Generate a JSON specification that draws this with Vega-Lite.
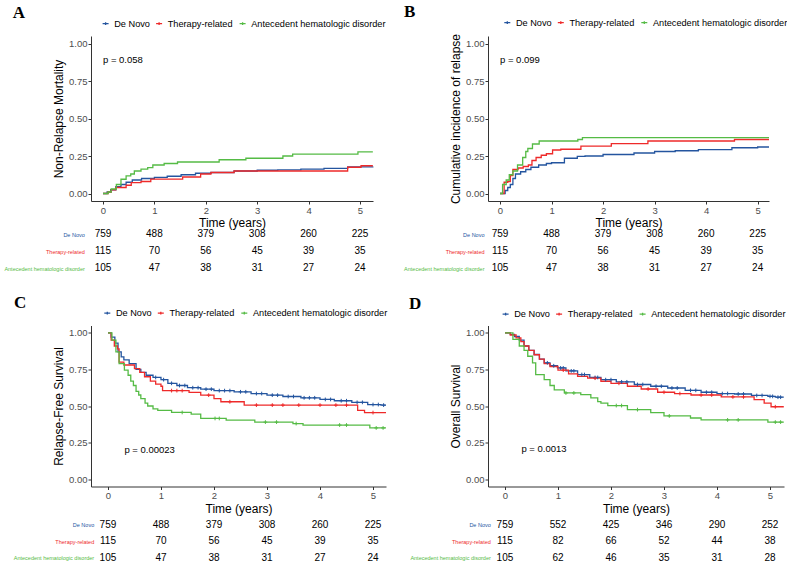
{
  "$schema": "https://vega.github.io/schema/vega-lite/v6.json",
  "padding": {"left": 3, "top": 3, "right": 0, "bottom": 0},
  "bounds": "flush",
  "align": "each",
  "columns": 2,
  "spacing": {"row": 28.25, "column": 102},
  "resolve": {"scale": {"color": "independent"}, "legend": {"color": "independent"}},
  "datasets": {
    "nrm": [
      {"g":"De Novo","t":0,"s":0},{"g":"De Novo","t":0.08,"s":0.01},{"g":"De Novo","t":0.15,"s":0.025},{"g":"De Novo","t":0.25,"s":0.045},{"g":"De Novo","t":0.35,"s":0.06},{"g":"De Novo","t":0.45,"s":0.075},{"g":"De Novo","t":0.57,"s":0.09},{"g":"De Novo","t":0.75,"s":0.1},{"g":"De Novo","t":1.0,"s":0.107},{"g":"De Novo","t":1.25,"s":0.115},{"g":"De Novo","t":1.52,"s":0.125},{"g":"De Novo","t":1.8,"s":0.135},{"g":"De Novo","t":2.1,"s":0.14},{"g":"De Novo","t":2.55,"s":0.15},{"g":"De Novo","t":3.0,"s":0.155},{"g":"De Novo","t":3.4,"s":0.158},{"g":"De Novo","t":3.85,"s":0.162},{"g":"De Novo","t":4.3,"s":0.168},{"g":"De Novo","t":4.76,"s":0.178},{"g":"De Novo","t":5.25,"s":0.18},
      {"g":"Therapy-related","t":0,"s":0},{"g":"Therapy-related","t":0.1,"s":0.01},{"g":"Therapy-related","t":0.16,"s":0.025},{"g":"Therapy-related","t":0.25,"s":0.04},{"g":"Therapy-related","t":0.45,"s":0.055},{"g":"Therapy-related","t":0.55,"s":0.073},{"g":"Therapy-related","t":0.74,"s":0.08},{"g":"Therapy-related","t":0.93,"s":0.096},{"g":"Therapy-related","t":1.55,"s":0.11},{"g":"Therapy-related","t":1.9,"s":0.13},{"g":"Therapy-related","t":2.1,"s":0.14},{"g":"Therapy-related","t":2.55,"s":0.15},{"g":"Therapy-related","t":4.76,"s":0.175},{"g":"Therapy-related","t":5.02,"s":0.185},{"g":"Therapy-related","t":5.25,"s":0.185},
      {"g":"Antecedent hematologic disorder","t":0,"s":0},{"g":"Antecedent hematologic disorder","t":0.1,"s":0.01},{"g":"Antecedent hematologic disorder","t":0.16,"s":0.03},{"g":"Antecedent hematologic disorder","t":0.26,"s":0.06},{"g":"Antecedent hematologic disorder","t":0.35,"s":0.095},{"g":"Antecedent hematologic disorder","t":0.45,"s":0.118},{"g":"Antecedent hematologic disorder","t":0.54,"s":0.13},{"g":"Antecedent hematologic disorder","t":0.61,"s":0.15},{"g":"Antecedent hematologic disorder","t":0.74,"s":0.162},{"g":"Antecedent hematologic disorder","t":0.87,"s":0.173},{"g":"Antecedent hematologic disorder","t":0.97,"s":0.19},{"g":"Antecedent hematologic disorder","t":1.19,"s":0.2},{"g":"Antecedent hematologic disorder","t":1.45,"s":0.21},{"g":"Antecedent hematologic disorder","t":2.26,"s":0.225},{"g":"Antecedent hematologic disorder","t":2.78,"s":0.235},{"g":"Antecedent hematologic disorder","t":3.5,"s":0.25},{"g":"Antecedent hematologic disorder","t":3.69,"s":0.262},{"g":"Antecedent hematologic disorder","t":4.96,"s":0.278},{"g":"Antecedent hematologic disorder","t":5.25,"s":0.278}
    ],
    "cir": [
      {"g":"De Novo","t":0,"s":0},{"g":"De Novo","t":0.1,"s":0.02},{"g":"De Novo","t":0.15,"s":0.04},{"g":"De Novo","t":0.2,"s":0.06},{"g":"De Novo","t":0.25,"s":0.1},{"g":"De Novo","t":0.3,"s":0.13},{"g":"De Novo","t":0.4,"s":0.145},{"g":"De Novo","t":0.5,"s":0.16},{"g":"De Novo","t":0.6,"s":0.175},{"g":"De Novo","t":0.75,"s":0.19},{"g":"De Novo","t":0.9,"s":0.2},{"g":"De Novo","t":1.0,"s":0.205},{"g":"De Novo","t":1.25,"s":0.235},{"g":"De Novo","t":1.5,"s":0.248},{"g":"De Novo","t":1.65,"s":0.25},{"g":"De Novo","t":2.0,"s":0.26},{"g":"De Novo","t":2.6,"s":0.27},{"g":"De Novo","t":3.0,"s":0.28},{"g":"De Novo","t":3.4,"s":0.285},{"g":"De Novo","t":3.85,"s":0.293},{"g":"De Novo","t":4.5,"s":0.305},{"g":"De Novo","t":5.0,"s":0.31},{"g":"De Novo","t":5.22,"s":0.31},
      {"g":"Therapy-related","t":0,"s":0},{"g":"Therapy-related","t":0.08,"s":0.075},{"g":"Therapy-related","t":0.15,"s":0.08},{"g":"Therapy-related","t":0.2,"s":0.12},{"g":"Therapy-related","t":0.25,"s":0.16},{"g":"Therapy-related","t":0.35,"s":0.17},{"g":"Therapy-related","t":0.45,"s":0.18},{"g":"Therapy-related","t":0.55,"s":0.19},{"g":"Therapy-related","t":0.62,"s":0.22},{"g":"Therapy-related","t":0.7,"s":0.24},{"g":"Therapy-related","t":0.8,"s":0.255},{"g":"Therapy-related","t":0.9,"s":0.265},{"g":"Therapy-related","t":1.02,"s":0.29},{"g":"Therapy-related","t":1.18,"s":0.295},{"g":"Therapy-related","t":1.57,"s":0.316},{"g":"Therapy-related","t":2.16,"s":0.333},{"g":"Therapy-related","t":2.87,"s":0.35},{"g":"Therapy-related","t":4.55,"s":0.36},{"g":"Therapy-related","t":5.22,"s":0.36},
      {"g":"Antecedent hematologic disorder","t":0,"s":0},{"g":"Antecedent hematologic disorder","t":0.05,"s":0.06},{"g":"Antecedent hematologic disorder","t":0.12,"s":0.09},{"g":"Antecedent hematologic disorder","t":0.18,"s":0.125},{"g":"Antecedent hematologic disorder","t":0.25,"s":0.15},{"g":"Antecedent hematologic disorder","t":0.34,"s":0.19},{"g":"Antecedent hematologic disorder","t":0.44,"s":0.24},{"g":"Antecedent hematologic disorder","t":0.5,"s":0.28},{"g":"Antecedent hematologic disorder","t":0.54,"s":0.3},{"g":"Antecedent hematologic disorder","t":0.63,"s":0.33},{"g":"Antecedent hematologic disorder","t":0.76,"s":0.35},{"g":"Antecedent hematologic disorder","t":1.51,"s":0.36},{"g":"Antecedent hematologic disorder","t":1.6,"s":0.373},{"g":"Antecedent hematologic disorder","t":5.22,"s":0.373}
    ],
    "rfs": [
      {"g":"De Novo","t":0,"s":1},{"g":"De Novo","t":0.06,"s":0.97},{"g":"De Novo","t":0.13,"s":0.93},{"g":"De Novo","t":0.19,"s":0.87},{"g":"De Novo","t":0.25,"s":0.835},{"g":"De Novo","t":0.3,"s":0.815},{"g":"De Novo","t":0.4,"s":0.79},{"g":"De Novo","t":0.53,"s":0.75},{"g":"De Novo","t":0.62,"s":0.73},{"g":"De Novo","t":0.72,"s":0.71},{"g":"De Novo","t":0.85,"s":0.695},{"g":"De Novo","t":0.9,"s":0.695,"c":1},{"g":"De Novo","t":1.0,"s":0.68},{"g":"De Novo","t":1.05,"s":0.68,"c":1},{"g":"De Novo","t":1.13,"s":0.655},{"g":"De Novo","t":1.2,"s":0.655,"c":1},{"g":"De Novo","t":1.3,"s":0.64},{"g":"De Novo","t":1.35,"s":0.64,"c":1},{"g":"De Novo","t":1.45,"s":0.64,"c":1},{"g":"De Novo","t":1.5,"s":0.625},{"g":"De Novo","t":1.6,"s":0.625,"c":1},{"g":"De Novo","t":1.7,"s":0.625,"c":1},{"g":"De Novo","t":1.75,"s":0.615},{"g":"De Novo","t":1.85,"s":0.615,"c":1},{"g":"De Novo","t":1.95,"s":0.615,"c":1},{"g":"De Novo","t":2.0,"s":0.605},{"g":"De Novo","t":2.1,"s":0.605,"c":1},{"g":"De Novo","t":2.2,"s":0.605,"c":1},{"g":"De Novo","t":2.3,"s":0.605,"c":1},{"g":"De Novo","t":2.38,"s":0.597},{"g":"De Novo","t":2.5,"s":0.597,"c":1},{"g":"De Novo","t":2.6,"s":0.597,"c":1},{"g":"De Novo","t":2.7,"s":0.585},{"g":"De Novo","t":2.8,"s":0.585,"c":1},{"g":"De Novo","t":2.9,"s":0.585,"c":1},{"g":"De Novo","t":3.0,"s":0.574},{"g":"De Novo","t":3.1,"s":0.574,"c":1},{"g":"De Novo","t":3.2,"s":0.574,"c":1},{"g":"De Novo","t":3.3,"s":0.565},{"g":"De Novo","t":3.4,"s":0.565,"c":1},{"g":"De Novo","t":3.5,"s":0.565,"c":1},{"g":"De Novo","t":3.64,"s":0.556},{"g":"De Novo","t":3.7,"s":0.556,"c":1},{"g":"De Novo","t":3.8,"s":0.556,"c":1},{"g":"De Novo","t":3.9,"s":0.556,"c":1},{"g":"De Novo","t":4.0,"s":0.545},{"g":"De Novo","t":4.1,"s":0.545,"c":1},{"g":"De Novo","t":4.2,"s":0.545,"c":1},{"g":"De Novo","t":4.27,"s":0.536},{"g":"De Novo","t":4.4,"s":0.536,"c":1},{"g":"De Novo","t":4.5,"s":0.536,"c":1},{"g":"De Novo","t":4.6,"s":0.525},{"g":"De Novo","t":4.7,"s":0.525,"c":1},{"g":"De Novo","t":4.8,"s":0.525,"c":1},{"g":"De Novo","t":4.9,"s":0.51},{"g":"De Novo","t":5.0,"s":0.51,"c":1},{"g":"De Novo","t":5.1,"s":0.51,"c":1},{"g":"De Novo","t":5.15,"s":0.506},{"g":"De Novo","t":5.2,"s":0.506,"c":1},{"g":"De Novo","t":5.245,"s":0.506},
      {"g":"Therapy-related","t":0,"s":1},{"g":"Therapy-related","t":0.06,"s":0.95},{"g":"Therapy-related","t":0.12,"s":0.91},{"g":"Therapy-related","t":0.18,"s":0.89},{"g":"Therapy-related","t":0.21,"s":0.8},{"g":"Therapy-related","t":0.3,"s":0.78},{"g":"Therapy-related","t":0.5,"s":0.756},{"g":"Therapy-related","t":0.6,"s":0.73},{"g":"Therapy-related","t":0.69,"s":0.7},{"g":"Therapy-related","t":0.8,"s":0.67},{"g":"Therapy-related","t":0.9,"s":0.65},{"g":"Therapy-related","t":1.0,"s":0.635},{"g":"Therapy-related","t":1.03,"s":0.605},{"g":"Therapy-related","t":1.2,"s":0.605,"c":1},{"g":"Therapy-related","t":1.3,"s":0.605,"c":1},{"g":"Therapy-related","t":1.4,"s":0.605,"c":1},{"g":"Therapy-related","t":1.53,"s":0.593},{"g":"Therapy-related","t":1.75,"s":0.574},{"g":"Therapy-related","t":1.9,"s":0.574,"c":1},{"g":"Therapy-related","t":2.0,"s":0.55},{"g":"Therapy-related","t":2.13,"s":0.529},{"g":"Therapy-related","t":2.3,"s":0.529,"c":1},{"g":"Therapy-related","t":2.57,"s":0.506},{"g":"Therapy-related","t":2.8,"s":0.506,"c":1},{"g":"Therapy-related","t":3.1,"s":0.506,"c":1},{"g":"Therapy-related","t":3.3,"s":0.506,"c":1},{"g":"Therapy-related","t":3.6,"s":0.506,"c":1},{"g":"Therapy-related","t":4.0,"s":0.506,"c":1},{"g":"Therapy-related","t":4.3,"s":0.506,"c":1},{"g":"Therapy-related","t":4.5,"s":0.506,"c":1},{"g":"Therapy-related","t":4.71,"s":0.47},{"g":"Therapy-related","t":4.84,"s":0.455},{"g":"Therapy-related","t":5.0,"s":0.455,"c":1},{"g":"Therapy-related","t":5.245,"s":0.455},
      {"g":"Antecedent hematologic disorder","t":0,"s":1},{"g":"Antecedent hematologic disorder","t":0.075,"s":0.95},{"g":"Antecedent hematologic disorder","t":0.15,"s":0.87},{"g":"Antecedent hematologic disorder","t":0.21,"s":0.79},{"g":"Antecedent hematologic disorder","t":0.31,"s":0.745},{"g":"Antecedent hematologic disorder","t":0.38,"s":0.71},{"g":"Antecedent hematologic disorder","t":0.43,"s":0.67},{"g":"Antecedent hematologic disorder","t":0.48,"s":0.64},{"g":"Antecedent hematologic disorder","t":0.53,"s":0.6},{"g":"Antecedent hematologic disorder","t":0.58,"s":0.575},{"g":"Antecedent hematologic disorder","t":0.62,"s":0.55},{"g":"Antecedent hematologic disorder","t":0.7,"s":0.52},{"g":"Antecedent hematologic disorder","t":0.75,"s":0.5},{"g":"Antecedent hematologic disorder","t":0.85,"s":0.48},{"g":"Antecedent hematologic disorder","t":0.94,"s":0.47},{"g":"Antecedent hematologic disorder","t":1.2,"s":0.456},{"g":"Antecedent hematologic disorder","t":1.4,"s":0.456,"c":1},{"g":"Antecedent hematologic disorder","t":1.57,"s":0.444},{"g":"Antecedent hematologic disorder","t":1.75,"s":0.415},{"g":"Antecedent hematologic disorder","t":2.02,"s":0.415,"c":1},{"g":"Antecedent hematologic disorder","t":2.1,"s":0.415,"c":1},{"g":"Antecedent hematologic disorder","t":2.23,"s":0.404},{"g":"Antecedent hematologic disorder","t":2.77,"s":0.39},{"g":"Antecedent hematologic disorder","t":2.97,"s":0.39,"c":1},{"g":"Antecedent hematologic disorder","t":3.18,"s":0.39,"c":1},{"g":"Antecedent hematologic disorder","t":3.49,"s":0.38},{"g":"Antecedent hematologic disorder","t":3.55,"s":0.38,"c":1},{"g":"Antecedent hematologic disorder","t":3.68,"s":0.37},{"g":"Antecedent hematologic disorder","t":4.37,"s":0.37,"c":1},{"g":"Antecedent hematologic disorder","t":4.5,"s":0.37,"c":1},{"g":"Antecedent hematologic disorder","t":4.94,"s":0.35},{"g":"Antecedent hematologic disorder","t":5.06,"s":0.35,"c":1},{"g":"Antecedent hematologic disorder","t":5.19,"s":0.35,"c":1},{"g":"Antecedent hematologic disorder","t":5.245,"s":0.35}
    ],
    "os": [
      {"g":"De Novo","t":0,"s":1},{"g":"De Novo","t":0.1,"s":0.99},{"g":"De Novo","t":0.18,"s":0.975},{"g":"De Novo","t":0.27,"s":0.95},{"g":"De Novo","t":0.36,"s":0.91},{"g":"De Novo","t":0.45,"s":0.88},{"g":"De Novo","t":0.55,"s":0.852},{"g":"De Novo","t":0.65,"s":0.82},{"g":"De Novo","t":0.74,"s":0.795},{"g":"De Novo","t":0.8,"s":0.795,"c":1},{"g":"De Novo","t":0.85,"s":0.775},{"g":"De Novo","t":0.92,"s":0.775,"c":1},{"g":"De Novo","t":0.99,"s":0.76},{"g":"De Novo","t":1.05,"s":0.76,"c":1},{"g":"De Novo","t":1.1,"s":0.76,"c":1},{"g":"De Novo","t":1.15,"s":0.74},{"g":"De Novo","t":1.25,"s":0.74,"c":1},{"g":"De Novo","t":1.3,"s":0.74,"c":1},{"g":"De Novo","t":1.37,"s":0.715},{"g":"De Novo","t":1.45,"s":0.715,"c":1},{"g":"De Novo","t":1.5,"s":0.715,"c":1},{"g":"De Novo","t":1.6,"s":0.695},{"g":"De Novo","t":1.7,"s":0.695,"c":1},{"g":"De Novo","t":1.75,"s":0.695,"c":1},{"g":"De Novo","t":1.81,"s":0.68},{"g":"De Novo","t":1.9,"s":0.68,"c":1},{"g":"De Novo","t":2.0,"s":0.68,"c":1},{"g":"De Novo","t":2.1,"s":0.665},{"g":"De Novo","t":2.2,"s":0.665,"c":1},{"g":"De Novo","t":2.3,"s":0.665,"c":1},{"g":"De Novo","t":2.44,"s":0.647},{"g":"De Novo","t":2.5,"s":0.647,"c":1},{"g":"De Novo","t":2.6,"s":0.647,"c":1},{"g":"De Novo","t":2.75,"s":0.635},{"g":"De Novo","t":2.85,"s":0.635,"c":1},{"g":"De Novo","t":2.95,"s":0.635,"c":1},{"g":"De Novo","t":3.07,"s":0.623},{"g":"De Novo","t":3.15,"s":0.623,"c":1},{"g":"De Novo","t":3.25,"s":0.623,"c":1},{"g":"De Novo","t":3.4,"s":0.607},{"g":"De Novo","t":3.5,"s":0.607,"c":1},{"g":"De Novo","t":3.6,"s":0.607,"c":1},{"g":"De Novo","t":3.7,"s":0.594},{"g":"De Novo","t":3.8,"s":0.594,"c":1},{"g":"De Novo","t":3.9,"s":0.594,"c":1},{"g":"De Novo","t":4.0,"s":0.585},{"g":"De Novo","t":4.1,"s":0.585,"c":1},{"g":"De Novo","t":4.2,"s":0.585,"c":1},{"g":"De Novo","t":4.33,"s":0.582},{"g":"De Novo","t":4.4,"s":0.582,"c":1},{"g":"De Novo","t":4.5,"s":0.582,"c":1},{"g":"De Novo","t":4.65,"s":0.572},{"g":"De Novo","t":4.75,"s":0.572,"c":1},{"g":"De Novo","t":4.85,"s":0.572,"c":1},{"g":"De Novo","t":4.96,"s":0.566},{"g":"De Novo","t":5.0,"s":0.566,"c":1},{"g":"De Novo","t":5.05,"s":0.566,"c":1},{"g":"De Novo","t":5.1,"s":0.56},{"g":"De Novo","t":5.15,"s":0.56,"c":1},{"g":"De Novo","t":5.2,"s":0.56,"c":1},{"g":"De Novo","t":5.26,"s":0.56},
      {"g":"Therapy-related","t":0,"s":1},{"g":"Therapy-related","t":0.1,"s":0.985},{"g":"Therapy-related","t":0.21,"s":0.965},{"g":"Therapy-related","t":0.3,"s":0.94},{"g":"Therapy-related","t":0.36,"s":0.91},{"g":"Therapy-related","t":0.45,"s":0.88},{"g":"Therapy-related","t":0.55,"s":0.85},{"g":"Therapy-related","t":0.65,"s":0.82},{"g":"Therapy-related","t":0.74,"s":0.79},{"g":"Therapy-related","t":0.85,"s":0.77},{"g":"Therapy-related","t":1.0,"s":0.745},{"g":"Therapy-related","t":1.1,"s":0.745,"c":1},{"g":"Therapy-related","t":1.2,"s":0.72},{"g":"Therapy-related","t":1.37,"s":0.703},{"g":"Therapy-related","t":1.56,"s":0.69},{"g":"Therapy-related","t":1.7,"s":0.69,"c":1},{"g":"Therapy-related","t":1.81,"s":0.669},{"g":"Therapy-related","t":2.0,"s":0.655},{"g":"Therapy-related","t":2.15,"s":0.655,"c":1},{"g":"Therapy-related","t":2.31,"s":0.635},{"g":"Therapy-related","t":2.57,"s":0.616},{"g":"Therapy-related","t":2.7,"s":0.616,"c":1},{"g":"Therapy-related","t":2.88,"s":0.594},{"g":"Therapy-related","t":3.0,"s":0.594,"c":1},{"g":"Therapy-related","t":3.2,"s":0.585},{"g":"Therapy-related","t":3.3,"s":0.585,"c":1},{"g":"Therapy-related","t":3.51,"s":0.575},{"g":"Therapy-related","t":3.7,"s":0.575,"c":1},{"g":"Therapy-related","t":3.9,"s":0.575,"c":1},{"g":"Therapy-related","t":4.08,"s":0.562},{"g":"Therapy-related","t":4.3,"s":0.562,"c":1},{"g":"Therapy-related","t":4.5,"s":0.562,"c":1},{"g":"Therapy-related","t":4.7,"s":0.544},{"g":"Therapy-related","t":4.89,"s":0.52},{"g":"Therapy-related","t":5.02,"s":0.495},{"g":"Therapy-related","t":5.1,"s":0.495,"c":1},{"g":"Therapy-related","t":5.26,"s":0.495},
      {"g":"Antecedent hematologic disorder","t":0,"s":1},{"g":"Antecedent hematologic disorder","t":0.15,"s":0.955},{"g":"Antecedent hematologic disorder","t":0.27,"s":0.91},{"g":"Antecedent hematologic disorder","t":0.36,"s":0.88},{"g":"Antecedent hematologic disorder","t":0.43,"s":0.84},{"g":"Antecedent hematologic disorder","t":0.52,"s":0.795},{"g":"Antecedent hematologic disorder","t":0.58,"s":0.715},{"g":"Antecedent hematologic disorder","t":0.74,"s":0.68},{"g":"Antecedent hematologic disorder","t":0.85,"s":0.64},{"g":"Antecedent hematologic disorder","t":0.93,"s":0.61},{"g":"Antecedent hematologic disorder","t":1.12,"s":0.589},{"g":"Antecedent hematologic disorder","t":1.15,"s":0.589,"c":1},{"g":"Antecedent hematologic disorder","t":1.3,"s":0.589,"c":1},{"g":"Antecedent hematologic disorder","t":1.43,"s":0.578},{"g":"Antecedent hematologic disorder","t":1.62,"s":0.555},{"g":"Antecedent hematologic disorder","t":1.75,"s":0.53},{"g":"Antecedent hematologic disorder","t":1.81,"s":0.52},{"g":"Antecedent hematologic disorder","t":1.94,"s":0.503},{"g":"Antecedent hematologic disorder","t":2.1,"s":0.503,"c":1},{"g":"Antecedent hematologic disorder","t":2.2,"s":0.503,"c":1},{"g":"Antecedent hematologic disorder","t":2.31,"s":0.475},{"g":"Antecedent hematologic disorder","t":2.5,"s":0.475,"c":1},{"g":"Antecedent hematologic disorder","t":2.75,"s":0.455},{"g":"Antecedent hematologic disorder","t":3.0,"s":0.432},{"g":"Antecedent hematologic disorder","t":3.1,"s":0.432,"c":1},{"g":"Antecedent hematologic disorder","t":3.5,"s":0.418},{"g":"Antecedent hematologic disorder","t":3.7,"s":0.405},{"g":"Antecedent hematologic disorder","t":4.2,"s":0.405,"c":1},{"g":"Antecedent hematologic disorder","t":4.4,"s":0.405,"c":1},{"g":"Antecedent hematologic disorder","t":4.96,"s":0.39},{"g":"Antecedent hematologic disorder","t":5.1,"s":0.39,"c":1},{"g":"Antecedent hematologic disorder","t":5.2,"s":0.39,"c":1},{"g":"Antecedent hematologic disorder","t":5.26,"s":0.39}
    ],
    "tab1": [
      {"g":"De Novo","t":0,"n":759},{"g":"De Novo","t":1,"n":488},{"g":"De Novo","t":2,"n":379},{"g":"De Novo","t":3,"n":308},{"g":"De Novo","t":4,"n":260},{"g":"De Novo","t":5,"n":225},
      {"g":"Therapy-related","t":0,"n":115},{"g":"Therapy-related","t":1,"n":70},{"g":"Therapy-related","t":2,"n":56},{"g":"Therapy-related","t":3,"n":45},{"g":"Therapy-related","t":4,"n":39},{"g":"Therapy-related","t":5,"n":35},
      {"g":"Antecedent hematologic disorder","t":0,"n":105},{"g":"Antecedent hematologic disorder","t":1,"n":47},{"g":"Antecedent hematologic disorder","t":2,"n":38},{"g":"Antecedent hematologic disorder","t":3,"n":31},{"g":"Antecedent hematologic disorder","t":4,"n":27},{"g":"Antecedent hematologic disorder","t":5,"n":24}
    ],
    "tab2": [
      {"g":"De Novo","t":0,"n":759},{"g":"De Novo","t":1,"n":552},{"g":"De Novo","t":2,"n":425},{"g":"De Novo","t":3,"n":346},{"g":"De Novo","t":4,"n":290},{"g":"De Novo","t":5,"n":252},
      {"g":"Therapy-related","t":0,"n":115},{"g":"Therapy-related","t":1,"n":82},{"g":"Therapy-related","t":2,"n":66},{"g":"Therapy-related","t":3,"n":52},{"g":"Therapy-related","t":4,"n":44},{"g":"Therapy-related","t":5,"n":38},
      {"g":"Antecedent hematologic disorder","t":0,"n":105},{"g":"Antecedent hematologic disorder","t":1,"n":62},{"g":"Antecedent hematologic disorder","t":2,"n":46},{"g":"Antecedent hematologic disorder","t":3,"n":35},{"g":"Antecedent hematologic disorder","t":4,"n":31},{"g":"Antecedent hematologic disorder","t":5,"n":28}
    ]
  },
  "concat": [
    {
      "width": 282, "height": 165,
      "title": {"text": "A", "anchor": "start", "frame": "group", "font": "Liberation Serif", "fontSize": 17, "fontWeight": "bold", "color": "black", "dx": -78.3, "dy": 3.3, "offset": 0},
      "data": {"name": "nrm"},
      "layer": [
        {
          "mark": {"type": "line", "interpolate": "step-after", "strokeWidth": 1.3},
          "encoding": {
            "x": {"field": "t", "type": "quantitative", "scale": {"domain": [-0.233, 5.253], "nice": false, "zero": false}, "axis": {"values": [0,1,2,3,4,5], "format": "d", "title": "Time (years)"}},
            "y": {"field": "s", "type": "quantitative", "scale": {"domain": [-0.05, 1.05], "nice": false, "zero": false}, "axis": {"values": [0,0.25,0.5,0.75,1], "format": ".2f", "title": "Non-Relapse Mortality"}},
            "color": {"field": "g", "type": "nominal", "scale": {"domain": ["De Novo","Therapy-related","Antecedent hematologic disorder"], "range": ["#24559F","#EE2A2A","#55BB45"]},
              "legend": {"orient": "none", "legendX": 10, "legendY": -17, "direction": "horizontal", "title": null, "symbolType": "M-1,0H1M0,-0.45V0.45", "symbolSize": 36, "symbolStrokeWidth": 1.3, "labelFontSize": 9.2, "labelColor": "black", "columnPadding": 3.5, "labelOffset": 4, "padding": 0}}
          }
        },
        {
          "data": {"values": [{"p": "p = 0.058"}]},
          "mark": {"type": "text", "align": "left", "baseline": "middle", "fontSize": 9.5, "color": "black"},
          "encoding": {"x": {"datum": 0, "type": "quantitative"}, "y": {"datum": 0.89, "type": "quantitative"}, "text": {"field": "p"}}
        }
      ]
    },
    {
      "width": 281, "height": 165,
      "title": {"text": "B", "anchor": "start", "frame": "group", "font": "Liberation Serif", "fontSize": 17, "fontWeight": "bold", "color": "black", "dx": -84, "dy": 3.3, "offset": 0},
      "data": {"name": "cir"},
      "layer": [
        {
          "mark": {"type": "line", "interpolate": "step-after", "strokeWidth": 1.3},
          "encoding": {
            "x": {"field": "t", "type": "quantitative", "scale": {"domain": [-0.233, 5.22], "nice": false, "zero": false}, "axis": {"values": [0,1,2,3,4,5], "format": "d", "title": "Time (years)"}},
            "y": {"field": "s", "type": "quantitative", "scale": {"domain": [-0.05, 1.05], "nice": false, "zero": false}, "axis": {"values": [0,0.25,0.5,0.75,1], "format": ".2f", "title": "Cumulative incidence of relapse"}},
            "color": {"field": "g", "type": "nominal", "scale": {"domain": ["De Novo","Therapy-related","Antecedent hematologic disorder"], "range": ["#24559F","#EE2A2A","#55BB45"]},
              "legend": {"orient": "none", "legendX": 14.7, "legendY": -18, "direction": "horizontal", "title": null, "symbolType": "M-1,0H1M0,-0.45V0.45", "symbolSize": 36, "symbolStrokeWidth": 1.3, "labelFontSize": 9.2, "labelColor": "black", "columnPadding": 3.5, "labelOffset": 4, "padding": 0}}
          }
        },
        {
          "data": {"values": [{"p": "p = 0.099"}]},
          "mark": {"type": "text", "align": "left", "baseline": "middle", "fontSize": 9.5, "color": "black"},
          "encoding": {"x": {"datum": 0, "type": "quantitative"}, "y": {"datum": 0.89, "type": "quantitative"}, "text": {"field": "p"}}
        }
      ]
    },
    {
      "width": 282, "height": 68,
      "data": {"name": "tab1"},
      "mark": {"type": "text", "fontSize": 10, "color": "black", "baseline": "middle"},
      "encoding": {
        "x": {"field": "t", "type": "quantitative", "scale": {"domain": [-0.233, 5.253], "nice": false, "zero": false}, "axis": null},
        "y": {"field": "g", "type": "nominal", "scale": {"type": "point", "padding": 1, "align": 0.154, "domain": ["De Novo","Therapy-related","Antecedent hematologic disorder"]},
          "axis": {"title": null, "domain": false, "ticks": false, "labelFontSize": 5.5, "labelPadding": 6.7, "labelLimit": 0,
            "labelColor": {"condition": [{"test": "datum.value === 'De Novo'", "value": "#24559F"}, {"test": "datum.value === 'Therapy-related'", "value": "#EE2A2A"}], "value": "#55BB45"}}},
        "text": {"field": "n", "type": "quantitative"}
      }
    },
    {
      "width": 281, "height": 68,
      "data": {"name": "tab1"},
      "mark": {"type": "text", "fontSize": 10, "color": "black", "baseline": "middle"},
      "encoding": {
        "x": {"field": "t", "type": "quantitative", "scale": {"domain": [-0.233, 5.22], "nice": false, "zero": false}, "axis": null},
        "y": {"field": "g", "type": "nominal", "scale": {"type": "point", "padding": 1, "align": 0.154, "domain": ["De Novo","Therapy-related","Antecedent hematologic disorder"]},
          "axis": {"title": null, "domain": false, "ticks": false, "labelFontSize": 5.5, "labelPadding": 4, "labelLimit": 0,
            "labelColor": {"condition": [{"test": "datum.value === 'De Novo'", "value": "#24559F"}, {"test": "datum.value === 'Therapy-related'", "value": "#EE2A2A"}], "value": "#55BB45"}}},
        "text": {"field": "n", "type": "quantitative"}
      }
    },
    {
      "width": 295, "height": 161,
      "title": {"text": "C", "anchor": "start", "frame": "group", "font": "Liberation Serif", "fontSize": 17, "fontWeight": "bold", "color": "black", "dx": -77, "dy": 3.3, "offset": 0},
      "data": {"name": "rfs"},
      "layer": [
        {
          "mark": {"type": "line", "interpolate": "step-after", "strokeWidth": 1.3},
          "encoding": {
            "x": {"field": "t", "type": "quantitative", "scale": {"domain": [-0.32, 5.245], "nice": false, "zero": false}, "axis": {"values": [0,1,2,3,4,5], "format": "d", "title": "Time (years)"}},
            "y": {"field": "s", "type": "quantitative", "scale": {"domain": [-0.05, 1.05], "nice": false, "zero": false}, "axis": {"values": [0,0.25,0.5,0.75,1], "format": ".2f", "title": "Relapse-Free Survival"}},
            "color": {"field": "g", "type": "nominal", "scale": {"domain": ["De Novo","Therapy-related","Antecedent hematologic disorder"], "range": ["#24559F","#EE2A2A","#55BB45"]},
              "legend": {"orient": "none", "legendX": 11.7, "legendY": -17, "direction": "horizontal", "title": null, "symbolType": "M-1,0H1M0,-0.45V0.45", "symbolSize": 36, "symbolStrokeWidth": 1.3, "labelFontSize": 9.2, "labelColor": "black", "columnPadding": 3.5, "labelOffset": 4, "padding": 0}}
          }
        },
        {
          "transform": [{"filter": "datum.c == 1"}],
          "mark": {"type": "point", "shape": "M-1,0H1M0,-1V1", "filled": false, "size": 14, "strokeWidth": 1, "opacity": 1},
          "encoding": {
            "x": {"field": "t", "type": "quantitative"},
            "y": {"field": "s", "type": "quantitative"},
            "color": {"field": "g", "type": "nominal"}
          }
        },
        {
          "data": {"values": [{"p": "p = 0.00023"}]},
          "mark": {"type": "text", "align": "left", "baseline": "middle", "fontSize": 9.5, "color": "black"},
          "encoding": {"x": {"datum": 0.31, "type": "quantitative"}, "y": {"datum": 0.2, "type": "quantitative"}, "text": {"field": "p"}}
        }
      ]
    },
    {
      "width": 296, "height": 161,
      "title": {"text": "D", "anchor": "start", "frame": "group", "font": "Liberation Serif", "fontSize": 17, "fontWeight": "bold", "color": "black", "dx": -79, "dy": 3.3, "offset": 0},
      "data": {"name": "os"},
      "layer": [
        {
          "mark": {"type": "line", "interpolate": "step-after", "strokeWidth": 1.3},
          "encoding": {
            "x": {"field": "t", "type": "quantitative", "scale": {"domain": [-0.32, 5.264], "nice": false, "zero": false}, "axis": {"values": [0,1,2,3,4,5], "format": "d", "title": "Time (years)"}},
            "y": {"field": "s", "type": "quantitative", "scale": {"domain": [-0.05, 1.05], "nice": false, "zero": false}, "axis": {"values": [0,0.25,0.5,0.75,1], "format": ".2f", "title": "Overall Survival"}},
            "color": {"field": "g", "type": "nominal", "scale": {"domain": ["De Novo","Therapy-related","Antecedent hematologic disorder"], "range": ["#24559F","#EE2A2A","#55BB45"]},
              "legend": {"orient": "none", "legendX": 13, "legendY": -16, "direction": "horizontal", "title": null, "symbolType": "M-1,0H1M0,-0.45V0.45", "symbolSize": 36, "symbolStrokeWidth": 1.3, "labelFontSize": 9.2, "labelColor": "black", "columnPadding": 3.5, "labelOffset": 4, "padding": 0}}
          }
        },
        {
          "transform": [{"filter": "datum.c == 1"}],
          "mark": {"type": "point", "shape": "M-1,0H1M0,-1V1", "filled": false, "size": 14, "strokeWidth": 1, "opacity": 1},
          "encoding": {
            "x": {"field": "t", "type": "quantitative"},
            "y": {"field": "s", "type": "quantitative"},
            "color": {"field": "g", "type": "nominal"}
          }
        },
        {
          "data": {"values": [{"p": "p = 0.0013"}]},
          "mark": {"type": "text", "align": "left", "baseline": "middle", "fontSize": 9.5, "color": "black"},
          "encoding": {"x": {"datum": 0.31, "type": "quantitative"}, "y": {"datum": 0.205, "type": "quantitative"}, "text": {"field": "p"}}
        }
      ]
    },
    {
      "width": 295, "height": 42.9,
      "data": {"name": "tab1"},
      "mark": {"type": "text", "fontSize": 10, "color": "black", "baseline": "middle"},
      "encoding": {
        "x": {"field": "t", "type": "quantitative", "scale": {"domain": [-0.32, 5.245], "nice": false, "zero": false}, "axis": null},
        "y": {"field": "g", "type": "nominal", "scale": {"type": "point", "padding": 0.3, "align": 0.985, "domain": ["De Novo","Therapy-related","Antecedent hematologic disorder"]},
          "axis": {"title": null, "domain": false, "ticks": false, "labelFontSize": 5.5, "labelPadding": -2.7, "labelLimit": 0,
            "labelColor": {"condition": [{"test": "datum.value === 'De Novo'", "value": "#24559F"}, {"test": "datum.value === 'Therapy-related'", "value": "#EE2A2A"}], "value": "#55BB45"}}},
        "text": {"field": "n", "type": "quantitative"}
      }
    },
    {
      "width": 296, "height": 42.9,
      "data": {"name": "tab2"},
      "mark": {"type": "text", "fontSize": 10, "color": "black", "baseline": "middle"},
      "encoding": {
        "x": {"field": "t", "type": "quantitative", "scale": {"domain": [-0.32, 5.264], "nice": false, "zero": false}, "axis": null},
        "y": {"field": "g", "type": "nominal", "scale": {"type": "point", "padding": 0.3, "align": 0.985, "domain": ["De Novo","Therapy-related","Antecedent hematologic disorder"]},
          "axis": {"title": null, "domain": false, "ticks": false, "labelFontSize": 5.5, "labelPadding": -2.3, "labelLimit": 0,
            "labelColor": {"condition": [{"test": "datum.value === 'De Novo'", "value": "#24559F"}, {"test": "datum.value === 'Therapy-related'", "value": "#EE2A2A"}], "value": "#55BB45"}}},
        "text": {"field": "n", "type": "quantitative"}
      }
    }
  ],
  "config": {
    "view": {"stroke": null},
    "font": "Liberation Sans",
    "axis": {"domainColor": "#333333", "tickColor": "#333333", "labelColor": "#4d4d4d", "labelFontSize": 9.5, "titleFontSize": 12, "titleFontWeight": "normal", "titleColor": "black", "grid": false, "tickSize": 3, "labelPadding": 1, "titlePadding": 3},
    "title": {"font": "Liberation Serif"}
  }
}
